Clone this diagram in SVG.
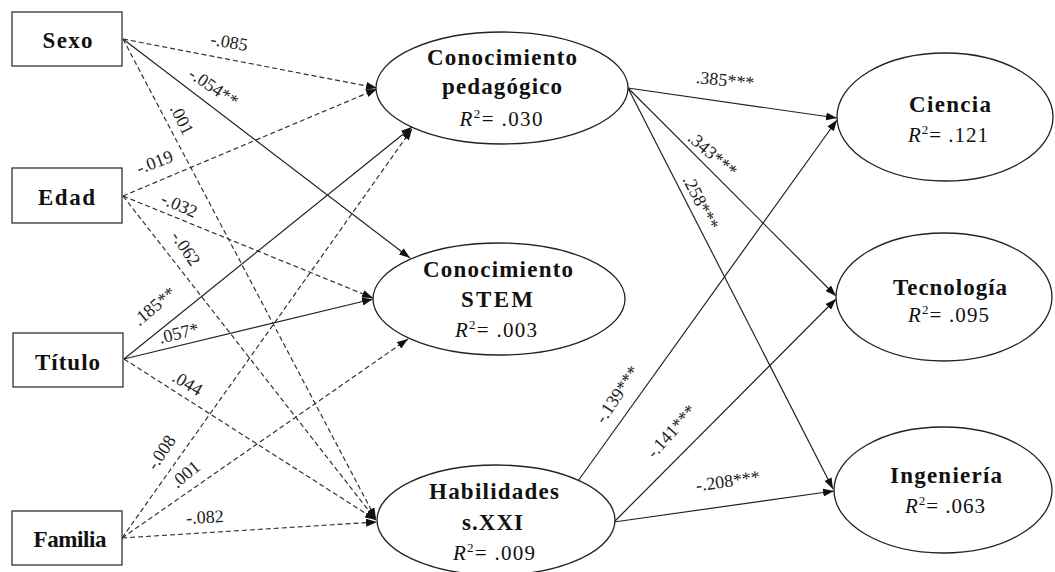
<svg xmlns="http://www.w3.org/2000/svg" width="1055" height="572" viewBox="0 0 1055 572">
<defs>
<marker id="ah" markerUnits="userSpaceOnUse" markerWidth="11" markerHeight="8" refX="11" refY="4" orient="auto">
<path d="M0,0 L11,4 L0,8 z" fill="#111" stroke="none"/>
</marker>
<style>
.box{fill:#fff;stroke:#333;stroke-width:1.3}
.ell{fill:#fff;stroke:#222;stroke-width:1.3}
.lb{font-family:"Liberation Serif","Times New Roman",serif;font-weight:bold;font-size:23px;fill:#111;text-anchor:middle}
.r2{font-family:"Liberation Serif","Times New Roman",serif;font-size:21px;fill:#111;text-anchor:middle}
.num{font-family:"Liberation Serif","Times New Roman",serif;font-size:18px;fill:#222;text-anchor:middle}
.s{fill:none;stroke:#222;stroke-width:1.2;marker-end:url(#ah)}
.d{fill:none;stroke:#333;stroke-width:1.2;stroke-dasharray:5 3;marker-end:url(#ah)}
</style>
</defs>
<rect width="1055" height="572" fill="#fff"/>
<g id="connectors">
<line class="d" x1="123" y1="39" x2="377" y2="88"/>
<line class="s" x1="123" y1="39" x2="410" y2="258"/>
<line class="d" x1="123" y1="39" x2="376" y2="519"/>
<line class="d" x1="123" y1="196" x2="377" y2="89"/>
<line class="d" x1="123" y1="196" x2="373" y2="298"/>
<line class="d" x1="123" y1="196" x2="376" y2="520"/>
<line class="s" x1="124" y1="359" x2="412" y2="127"/>
<line class="s" x1="124" y1="359" x2="373" y2="299"/>
<line class="d" x1="124" y1="359" x2="376" y2="520"/>
<line class="d" x1="122" y1="538" x2="412" y2="129"/>
<line class="d" x1="122" y1="538" x2="408" y2="339"/>
<line class="d" x1="122" y1="538" x2="377" y2="522"/>
<line class="s" x1="628" y1="88" x2="837" y2="118"/>
<line class="s" x1="628" y1="88" x2="836" y2="296"/>
<line class="s" x1="628" y1="88" x2="833" y2="489"/>
<line class="s" x1="578" y1="481" x2="837" y2="120"/>
<line class="s" x1="614" y1="522" x2="836" y2="299"/>
<line class="s" x1="614" y1="522" x2="834" y2="491"/>
<text class="num" transform="translate(229,43) rotate(10)" y="5">-.085</text>
<text class="num" transform="translate(213,88) rotate(34)" y="5">-.054**</text>
<text class="num" transform="translate(181,120) rotate(63)" y="5">.001</text>
<text class="num" transform="translate(155,163) rotate(-21)" y="5">-.019</text>
<text class="num" transform="translate(179,206) rotate(24)" y="5">-.032</text>
<text class="num" transform="translate(185,249) rotate(56)" y="5">-.062</text>
<text class="num" transform="translate(155,307) rotate(-40)" y="5">.185**</text>
<text class="num" transform="translate(179,334) rotate(-14)" y="5">.057*</text>
<text class="num" transform="translate(187,384) rotate(31)" y="5">.044</text>
<text class="num" transform="translate(162,453) rotate(-56)" y="5">-.008</text>
<text class="num" transform="translate(186,475) rotate(-40)" y="5">.001</text>
<text class="num" transform="translate(205,518) rotate(-3)" y="5">-.082</text>
<text class="num" transform="translate(725,81) rotate(6)" y="5">.385***</text>
<text class="num" transform="translate(712,155) rotate(41)" y="5">.343***</text>
<text class="num" transform="translate(700,203) rotate(63)" y="5">.258***</text>
<text class="num" transform="translate(618,395) rotate(-56)" y="5">-.139***</text>
<text class="num" transform="translate(672,432) rotate(-48)" y="5">-.141***</text>
<text class="num" transform="translate(728,482) rotate(-8)" y="5">-.208***</text>
</g>
<g id="sexo">
<rect class="box" x="12" y="12" width="110" height="54"/>
<text class="lb" x="67.5" y="48" textLength="50" lengthAdjust="spacing">Sexo</text>
</g>
<g id="edad">
<rect class="box" x="12" y="168" width="110" height="55"/>
<text class="lb" x="66.5" y="205" textLength="57" lengthAdjust="spacing">Edad</text>
</g>
<g id="titulo">
<rect class="box" x="13" y="333" width="110" height="54"/>
<text class="lb" x="67.5" y="370" textLength="65" lengthAdjust="spacing">Título</text>
</g>
<g id="familia">
<rect class="box" x="12" y="511" width="110" height="54"/>
<text class="lb" x="70" y="547" textLength="73" lengthAdjust="spacing">Familia</text>
</g>
<g id="conocimiento-pedagogico">
<ellipse class="ell" cx="502" cy="88" rx="126" ry="56"/>
<text class="lb" x="502" y="65" textLength="150" lengthAdjust="spacing">Conocimiento</text>
<text class="lb" x="502" y="94" textLength="120" lengthAdjust="spacing">pedagógico</text>
<text class="r2" x="501" y="126" textLength="83" lengthAdjust="spacing"><tspan font-style="italic">R</tspan><tspan font-size="13" dy="-8">2</tspan><tspan dy="8">= .030</tspan></text>
</g>
<g id="conocimiento-stem">
<ellipse class="ell" cx="499" cy="299" rx="126" ry="56"/>
<text class="lb" x="498" y="277" textLength="150" lengthAdjust="spacing">Conocimiento</text>
<text class="lb" x="497" y="307" textLength="72" lengthAdjust="spacing">STEM</text>
<text class="r2" x="496" y="337" textLength="82" lengthAdjust="spacing"><tspan font-style="italic">R</tspan><tspan font-size="13" dy="-8">2</tspan><tspan dy="8">= .003</tspan></text>
</g>
<g id="habilidades">
<ellipse class="ell" cx="496" cy="520" rx="119" ry="55"/>
<text class="lb" x="494" y="499" textLength="130" lengthAdjust="spacing">Habilidades</text>
<text class="lb" x="492.5" y="530" textLength="61" lengthAdjust="spacing">s.XXI</text>
<text class="r2" x="494" y="560" textLength="82" lengthAdjust="spacing"><tspan font-style="italic">R</tspan><tspan font-size="13" dy="-8">2</tspan><tspan dy="8">= .009</tspan></text>
</g>
<g id="ciencia">
<ellipse class="ell" cx="945" cy="117" rx="108" ry="64"/>
<text class="lb" x="950" y="112" textLength="82" lengthAdjust="spacing">Ciencia</text>
<text class="r2" x="948" y="142" textLength="80" lengthAdjust="spacing"><tspan font-style="italic">R</tspan><tspan font-size="13" dy="-8">2</tspan><tspan dy="8">= .121</tspan></text>
</g>
<g id="tecnologia">
<ellipse class="ell" cx="944" cy="297" rx="108" ry="64"/>
<text class="lb" x="950" y="295" textLength="114" lengthAdjust="spacing">Tecnología</text>
<text class="r2" x="948.5" y="322" textLength="81" lengthAdjust="spacing"><tspan font-style="italic">R</tspan><tspan font-size="13" dy="-8">2</tspan><tspan dy="8">= .095</tspan></text>
</g>
<g id="ingenieria">
<ellipse class="ell" cx="943" cy="490" rx="109" ry="63"/>
<text class="lb" x="946" y="483" textLength="112" lengthAdjust="spacing">Ingeniería</text>
<text class="r2" x="945" y="513" textLength="80" lengthAdjust="spacing"><tspan font-style="italic">R</tspan><tspan font-size="13" dy="-8">2</tspan><tspan dy="8">= .063</tspan></text>
</g>
</svg>
